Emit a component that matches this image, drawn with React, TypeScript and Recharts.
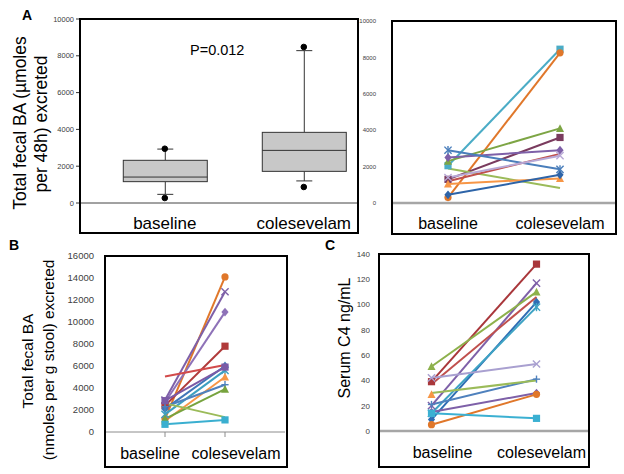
import React from 'react';
import { ComposedChart, LineChart, Line, Bar, XAxis, YAxis, ReferenceLine } from 'recharts';

const categories = ['baseline', 'colesevelam'];

// Panel A (left): box plot summary per category
const boxWhiskerLow = [470, 1200];
const boxQ1 = [1160, 1720];
const boxMedian = [1410, 2860];
const boxQ3 = [2320, 3840];
const boxWhiskerHigh = [2930, 8280];
const boxOutlierHigh = [2950, 8480];
const boxOutlierLow = [270, 870];
const ticksA = [0, 2000, 4000, 6000, 8000, 10000];

// Panel A (right): paired values per subject
const aBaseline = [2050, 300, 2300, 1300, 2500, 2900, 1900, 1200, 1400, 1050, 450];
const aColesevelam = [8450, 8250, 4100, 3600, 2900, 1850, 820, 2700, 2600, 1350, 1550];
const aColors = ['#4BACC6', '#E0772A', '#7DA544', '#7A3B5E', '#7E60A8', '#4A7EBB', '#9BBB59', '#C0504D', '#B8A8D6', '#F79646', '#2E64A8'];
const aMarkers = ['square', 'circle', 'triangle', 'square', 'diamond', 'star', 'none', 'none', 'x', 'triangle', 'diamond'];

// Panel B
const bBaseline = [1200, 2900, 2700, 2400, 5050, 2100, 1600, 1000, 2300, 1200, 2600, 700, 2850];
const bColesevelam = [14100, 12750, 10900, 7800, 6100, 6000, 5600, 5000, 4300, 3900, 1350, 1100, 5900];
const bColors = ['#E0772A', '#7E60A8', '#8E72B8', '#B03A3A', '#D24B4B', '#3F76B8', '#3E9FC0', '#F79646', '#4F81BD', '#77A33E', '#9BBB59', '#3AAFD0', '#7B5AA6'];
const bMarkers = ['circle', 'x', 'diamond', 'square', 'none', 'diamond', 'star', 'triangle', 'plus', 'triangle', 'none', 'square', 'square'];
const ticksB = [0, 2000, 4000, 6000, 8000, 10000, 12000, 14000, 16000];

// Panel C
const cBaseline = [39, 20, 51, 37, 9, 14, 42, 21, 30, 29, 15, 5, 14];
const cColesevelam = [132, 117, 110, 106, 102, 98, 53, 41, 40, null, 30, 29, 10];
const cColors = ['#A9373B', '#7E60A8', '#8DB14C', '#C0504D', '#2E6DB4', '#3EA3C4', '#A9A0D0', '#4F81BD', '#9BBB59', '#F79646', '#7E60A8', '#E0772A', '#3BB0D2'];
const cMarkers = ['square', 'x', 'triangle', 'none', 'diamond', 'star', 'x', 'plus', 'none', 'triangle', 'diamond', 'circle', 'square'];
const ticksC = [0, 20, 40, 60, 80, 100, 120, 140];

const FONT = 'Arial, "Liberation Sans", sans-serif';

function buildRows(base: (number | null)[], cole: (number | null)[]) {
  return categories.map((name, ci) => {
    const row: any = { name };
    const vals = ci === 0 ? base : cole;
    vals.forEach((v, i) => {
      row['s' + i] = v;
    });
    return row;
  });
}

const boxRows = categories.map((name, i) => ({
  name,
  pos: i + 1,
  lo: boxWhiskerLow[i],
  q1: boxQ1[i],
  med: boxMedian[i],
  q3: boxQ3[i],
  hi: boxWhiskerHigh[i],
  outHigh: boxOutlierHigh[i],
  outLow: boxOutlierLow[i],
}));

function makeDot(kind: string, color: string) {
  return (p: any) => {
    const { cx, cy, index } = p;
    const key = `d-${index}`;
    if (kind === 'none' || cx == null || cy == null || isNaN(cx) || isNaN(cy)) return <g key={key} />;
    const s = 3.6;
    switch (kind) {
      case 'square':
        return <rect key={key} x={cx - s} y={cy - s} width={2 * s} height={2 * s} fill={color} />;
      case 'circle':
        return <circle key={key} cx={cx} cy={cy} r={s} fill={color} />;
      case 'diamond':
        return <polygon key={key} points={`${cx},${cy - s - 0.8} ${cx + s},${cy} ${cx},${cy + s + 0.8} ${cx - s},${cy}`} fill={color} />;
      case 'triangle':
        return <polygon key={key} points={`${cx},${cy - s - 0.6} ${cx + s + 0.4},${cy + s} ${cx - s - 0.4},${cy + s}`} fill={color} />;
      case 'x':
        return (
          <g key={key} stroke={color} strokeWidth={1.4}>
            <line x1={cx - s} y1={cy - s} x2={cx + s} y2={cy + s} />
            <line x1={cx - s} y1={cy + s} x2={cx + s} y2={cy - s} />
          </g>
        );
      case 'star':
        return (
          <g key={key} stroke={color} strokeWidth={1.4}>
            <line x1={cx - s} y1={cy - s} x2={cx + s} y2={cy + s} />
            <line x1={cx - s} y1={cy + s} x2={cx + s} y2={cy - s} />
            <line x1={cx} y1={cy - s - 0.5} x2={cx} y2={cy + s + 0.5} />
          </g>
        );
      case 'plus':
        return (
          <g key={key} stroke={color} strokeWidth={1.4}>
            <line x1={cx - s} y1={cy} x2={cx + s} y2={cy} />
            <line x1={cx} y1={cy - s} x2={cx} y2={cy + s} />
          </g>
        );
      default:
        return <g key={key} />;
    }
  };
}

const BoxShape = (p: any) => {
  const { x, y, width, height, payload } = p;
  if (x == null || y == null || !payload) return <g />;
  const top = Math.min(y, y + height);
  const h = Math.abs(height);
  const { lo, hi, q1, med, q3 } = payload;
  const py = (v: number) => top + (h * (hi - v)) / (hi - lo);
  const cx = x + width / 2;
  const cap = 8;
  return (
    <g stroke="#333" strokeWidth={1}>
      <line x1={cx} y1={py(hi)} x2={cx} y2={py(q3)} />
      <line x1={cx} y1={py(q1)} x2={cx} y2={py(lo)} />
      <line x1={cx - cap} y1={py(hi)} x2={cx + cap} y2={py(hi)} />
      <line x1={cx - cap} y1={py(lo)} x2={cx + cap} y2={py(lo)} />
      <rect x={x} y={py(q3)} width={width} height={py(q1) - py(q3)} fill="#C8C8C8" />
      <line x1={x} y1={py(med)} x2={x + width} y2={py(med)} />
    </g>
  );
};

const W = 624;
const H = 474;
const YW = 40;

function PairedPanel(props: {
  base: (number | null)[];
  cole: (number | null)[];
  colors: string[];
  markers: string[];
  ticks: number[];
  left: number;
  right: number;
  top: number;
  bottom: number;
  padFraction: number;
  tickFont: number;
  tickMargin: number;
  axisLine: any;
  xTickSize: number;
  xTickMargin: number;
  xTickLine: any;
  labelOffsets: number[];
}) {
  const rows = buildRows(props.base, props.cole);
  const plotW = props.right - props.left;
  const pad = plotW * props.padFraction;
  const renderTick = (tp: any) => (
    <text
      x={tp.x + props.labelOffsets[tp.index]}
      y={tp.y}
      dy="0.71em"
      textAnchor="middle"
      fontSize={16}
      fontFamily={FONT}
      fill="#000"
    >
      {tp.payload.value}
    </text>
  );
  return (
    <div style={{ position: 'absolute', left: 0, top: 0 }}>
      <LineChart
        width={W}
        height={H}
        data={rows}
        margin={{ top: props.top, left: props.left - YW, right: W - props.right, bottom: H - props.bottom - 30 }}
      >
        <XAxis
          dataKey="name"
          height={30}
          padding={{ left: pad, right: pad }}
          axisLine={props.axisLine}
          tickLine={props.xTickLine}
          tickSize={props.xTickSize}
          tickMargin={props.xTickMargin}
          tick={renderTick}
          interval={0}
        />
        <YAxis
          width={YW}
          domain={[props.ticks[0], props.ticks[props.ticks.length - 1]]}
          ticks={props.ticks}
          axisLine={false}
          tickLine={false}
          tickSize={0}
          tickMargin={props.tickMargin}
          tick={{ fontSize: props.tickFont, fill: '#404040', fontFamily: FONT }}
          allowDataOverflow
        />
        {props.colors.map((c, i) => (
          <Line
            key={i}
            dataKey={'s' + i}
            stroke={c}
            strokeWidth={2}
            dot={makeDot(props.markers[i], c)}
            activeDot={false}
            isAnimationActive={false}
            connectNulls={false}
          />
        ))}
      </LineChart>
    </div>
  );
}

export default function App() {
  return (
    <div style={{ position: 'absolute', left: 0, top: 0, width: W, height: H, background: '#fff', fontFamily: FONT }}>
      {/* Panel A left: box plot */}
      <div style={{ position: 'absolute', left: 0, top: 0 }}>
        <ComposedChart
          width={W}
          height={H}
          data={boxRows}
          margin={{ top: 19, left: 80 - YW, right: W - 358, bottom: H - 203 - 30 }}
        >
          <XAxis
            dataKey="pos"
            type="number"
            domain={[0.39, 2.39]}
            ticks={[1, 2]}
            tickFormatter={(v: number) => categories[v - 1]}
            axisLine={false}
            tickLine={false}
            tickSize={0}
            tickMargin={14}
            height={30}
            tick={{ fontSize: 17, fill: '#000', fontFamily: FONT }}
            allowDataOverflow
          />
          <YAxis
            width={YW}
            domain={[0, 10000]}
            ticks={ticksA}
            axisLine={false}
            tickLine={{ stroke: '#333' }}
            tickSize={4}
            tickMargin={2}
            tick={{ fontSize: 7.5, fill: '#404040', fontFamily: FONT }}
          />
          <ReferenceLine y={0} stroke="#444" strokeWidth={1} />
          <Bar
            dataKey={(r: any) => [r.lo, r.hi]}
            barSize={84}
            shape={BoxShape}
            isAnimationActive={false}
          />
          <Line dataKey="outHigh" stroke="none" dot={{ r: 2.8, fill: '#000', stroke: '#000' }} activeDot={false} isAnimationActive={false} />
          <Line dataKey="outLow" stroke="none" dot={{ r: 2.8, fill: '#000', stroke: '#000' }} activeDot={false} isAnimationActive={false} />
        </ComposedChart>
      </div>

      <PairedPanel
        base={aBaseline}
        cole={aColesevelam}
        colors={aColors}
        markers={aMarkers}
        ticks={ticksA}
        left={392}
        right={616}
        top={21}
        bottom={203}
        padFraction={0.25}
        tickFont={6}
        tickMargin={16}
        axisLine={{ stroke: '#a6a6a6', strokeWidth: 2.5 }}
        xTickSize={0}
        xTickMargin={15}
        xTickLine={false}
        labelOffsets={[0, 0]}
      />

      <PairedPanel
        base={bBaseline}
        cole={bColesevelam}
        colors={bColors}
        markers={bMarkers}
        ticks={ticksB}
        left={105}
        right={285}
        top={256}
        bottom={432}
        padFraction={1 / 3}
        tickFont={9.5}
        tickMargin={11}
        axisLine={{ stroke: '#8c8c8c', strokeWidth: 1 }}
        xTickSize={5}
        xTickMargin={11}
        xTickLine={{ stroke: '#8c8c8c' }}
        labelOffsets={[-15, 11]}
      />

      <PairedPanel
        base={cBaseline}
        cole={cColesevelam}
        colors={cColors}
        markers={cMarkers}
        ticks={ticksC}
        left={379}
        right={589}
        top={254}
        bottom={431}
        padFraction={0.25}
        tickFont={8}
        tickMargin={9}
        axisLine={{ stroke: '#a6a6a6', strokeWidth: 2.5 }}
        xTickSize={0}
        xTickMargin={16}
        xTickLine={false}
        labelOffsets={[11, 5]}
      />

      {/* Frames and free text */}
      <svg width={W} height={H} style={{ position: 'absolute', left: 0, top: 0, pointerEvents: 'none' }} fontFamily={FONT}>
        <g fill="none" stroke="#000" strokeWidth={2}>
          <rect x={80} y={19} width={278} height={214} />
          <rect x={392} y={21} width={224} height={213} />
          <rect x={105} y={256} width={182} height={211} />
          <rect x={379} y={254} width={210} height={213} />
        </g>
        <text x={22} y={20} fontSize={14} fontWeight="bold">A</text>
        <text x={9} y={250} fontSize={14} fontWeight="bold">B</text>
        <text x={325} y={250} fontSize={14} fontWeight="bold">C</text>
        <text x={190} y={55} fontSize={14.5}>P=0.012</text>
        <text transform="translate(26,123) rotate(-90)" textAnchor="middle" fontSize={17.5}>Total fecal BA (µmoles</text>
        <text transform="translate(47,124) rotate(-90)" textAnchor="middle" fontSize={17.5}>per 48h) excreted</text>
        <text transform="translate(33,361) rotate(-90)" textAnchor="middle" fontSize={15.5}>Total fecal BA</text>
        <text transform="translate(54,360) rotate(-90)" textAnchor="middle" fontSize={15.5}>(nmoles per g stool) excreted</text>
        <text transform="translate(350,338) rotate(-90)" textAnchor="middle" fontSize={16}>Serum C4 ng/mL</text>
      </svg>
    </div>
  );
}
